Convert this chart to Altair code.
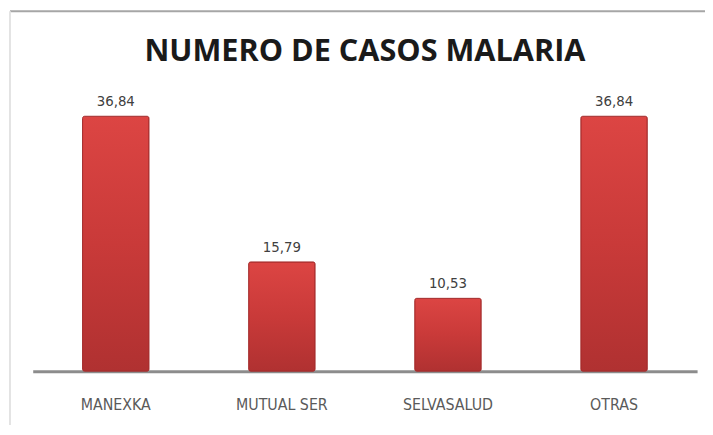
import altair as alt
import pandas as pd

categories = ["MANEXKA", "MUTUAL SER", "SELVASALUD", "OTRAS"]
values = [36.84, 15.79, 10.53, 36.84]
value_labels = ["36,84", "15,79", "10,53", "36,84"]
title_text = "NUMERO DE CASOS MALARIA"

df = pd.DataFrame({"cat": categories, "val": values, "lab": value_labels})

x_enc = alt.X("cat:N", sort=categories,
              scale=alt.Scale(paddingInner=0.6, paddingOuter=0.3),
              axis=alt.Axis(title=None, labelAngle=0, ticks=False, domainColor="#8c8c8c",
                            domainWidth=3, labelFont="DejaVu Sans Condensed", labelFontSize=16,
                            labelColor="#5a5a5a", labelPadding=26))
y_enc = alt.Y("val:Q", scale=alt.Scale(domain=[0, 293 / 7.0], nice=False, zero=True), axis=None)

bars = alt.Chart(df).mark_bar(
    cornerRadius=2,
    stroke="#a52d2d", strokeWidth=1,
    color=alt.Gradient(gradient="linear", x1=0, x2=0, y1=0, y2=1,
                       stops=[alt.GradientStop(color="#dc4543", offset=0),
                              alt.GradientStop(color="#c93a39", offset=0.5),
                              alt.GradientStop(color="#b03131", offset=1)])
).encode(x=x_enc, y=y_enc)

labels = alt.Chart(df).mark_text(baseline="middle", dy=-15, fontSize=15, color="#404040",
                                  font="DejaVu Sans Condensed").encode(
    x=alt.X("cat:N", sort=categories), y=alt.Y("val:Q"), text="lab:N")

title = alt.Chart(pd.DataFrame({"t": [title_text]})).mark_text(
    font="Open Sans", fontWeight="bold", fontSize=31, color="#1a1a1a", baseline="middle",
    align="center").encode(x=alt.value(336), y=alt.value(-30), text="t:N")

frame_top = alt.Chart(pd.DataFrame({"a": [0]})).mark_rule(color="#a6a6a6", strokeWidth=2).encode(
    x=alt.value(-23), x2=alt.value(700), y=alt.value(-71))
frame_left = alt.Chart(pd.DataFrame({"a": [0]})).mark_rule(color="#e3e3e3", strokeWidth=2).encode(
    x=alt.value(-23), y=alt.value(-71), y2=alt.value(360))

chart = alt.layer(frame_top, frame_left, bars, labels, title).properties(
    width=672, height=293,
    padding={"left": 25, "top": 72, "right": 8, "bottom": 52},
    autosize=alt.AutoSizeParams(type="none"),
    background="white",
).configure_view(stroke=None, strokeWidth=0)

chart.save("out.html", embed_options={"renderer": "svg", "actions": False})
